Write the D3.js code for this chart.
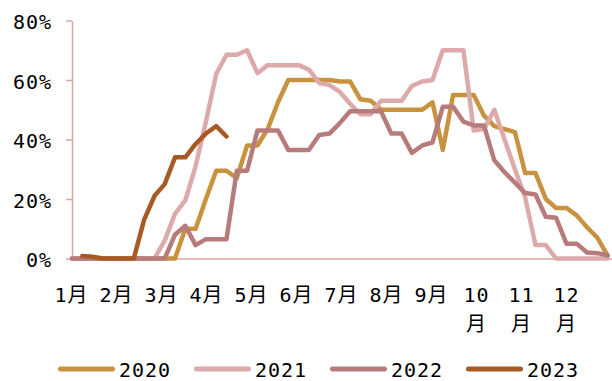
<!DOCTYPE html>
<html>
<head>
<meta charset="utf-8">
<script src="https://cdn.jsdelivr.net/npm/d3@7"></script>
<style>
  html, body { margin: 0; padding: 0; background: #fff; }
  svg { display: block; }
  text { font-family: "DejaVu Sans Mono", "Noto Sans CJK SC", monospace; font-size: 20px; fill: #000; letter-spacing: 1px; }
</style>
</head>
<body>
<svg id="chart" width="612" height="381"></svg>
<script>
// Weekly share (%) for each year, week index 0..52
const series2020 = [0,0,0,0,0,0,0,0,0,0,0,10,10,20,29.5,29.5,27,38,38,43.5,52.5,60,60,60,60,60,59.5,59.5,53.5,53,50,50,50,50,50,52.5,36.5,55,55,55,48,44.5,43.5,42.5,28.7,28.7,20,17,17,14.5,10.5,7,1];
const series2021 = [0,0,0,0,0,0,0,0,0,6,15,19.5,31,46,62,68.5,68.5,70,62.3,65,65,65,65,63.5,59,58.3,56,52,48.5,48.5,53,53,53,58,59.5,60,70,70,70,43,43.5,50,40,30,20.5,4.5,4.5,0,0,0,0,0,0];
const series2022 = [0,0,0,0,0,0,0,0,0,0,8,11,4.5,6.5,6.5,6.5,29.5,29.5,43,43,43,36.5,36.5,36.5,41.5,42,45.5,49.5,49.5,49.5,49.5,42,42,35.5,38,39,51,51,46,44.7,44.7,33,29,25.5,22,21.5,14,13.7,5,5,2,1.8,1];
const series2023 = [null,0.8,0.6,0,0,0,0,13,21,25,34,34,38.5,42,44.5,41];

const years = ["2020", "2021", "2022", "2023"];
const colors = ["#c8923f", "#dcaaaa", "#b87b7b", "#a85a24"];
const monthLabels = ["1月","2月","3月","4月","5月","6月","7月","8月","9月","10月","11月","12月"];
const yTicks = [0, 20, 40, 60, 80];

const allSeries = [series2020, series2021, series2022, series2023];
const svg = d3.select("#chart");
const axisColor = "#d9a6a6";

const x = d3.scaleLinear().domain([0, 52]).range([72, 607.6]);
const y = d3.scaleLinear().domain([0, 80]).range([258.5, 20.5]);
const xMonth = d3.scalePoint().domain(monthLabels).range([71, 566]);

// y axis
const yAxis = svg.append("g")
  .attr("transform", "translate(72,0)")
  .call(d3.axisLeft(y).tickValues(yTicks).tickSize(6).tickSizeOuter(0).tickPadding(14).tickFormat(d => d + "%"));
yAxis.select(".domain").attr("stroke", axisColor).attr("stroke-width", 1.5);
yAxis.selectAll(".tick line").attr("stroke", axisColor).attr("stroke-width", 1.5);
yAxis.selectAll(".tick text").attr("font-size", null).attr("font-family", null).attr("dy", "0.42em");

// x axis baseline
const xBase = d3.scaleLinear().domain([0, 1]).range([72, 612]);
const xAxis = svg.append("g")
  .attr("transform", `translate(0,${y(0)})`)
  .call(d3.axisBottom(xBase).tickValues([]).tickSizeOuter(0));
xAxis.select(".domain").attr("stroke", axisColor).attr("stroke-width", 1.5);

// month labels
const mAxis = svg.append("g")
  .attr("transform", `translate(0,${y(0)})`)
  .call(d3.axisBottom(xMonth).tickSize(0));
mAxis.select(".domain").remove();
mAxis.selectAll(".tick text")
  .attr("font-size", null).attr("font-family", null)
  .each(function(d) {
    const t = d3.select(this);
    t.text(null).attr("y", 0).attr("dy", null);
    if (d.length > 2) {
      t.append("tspan").attr("x", 0).attr("y", 43).text(d.slice(0, -1));
      t.append("tspan").attr("x", 0).attr("y", 72).text(d.slice(-1));
    } else {
      t.append("tspan").attr("x", 0).attr("y", 43).text(d);
    }
  });

// lines
const line = d3.line()
  .defined(d => d != null)
  .x((d, i) => x(i))
  .y(d => y(d));

svg.append("g").selectAll("path")
  .data(allSeries)
  .join("path")
  .attr("d", line)
  .attr("fill", "none")
  .attr("stroke", (d, i) => colors[i])
  .attr("stroke-width", 4.5)
  .attr("stroke-linejoin", "round")
  .attr("stroke-linecap", "round");

// legend
const legend = svg.append("g");
const items = legend.selectAll("g")
  .data(years)
  .join("g")
  .attr("transform", (d, i) => `translate(${58 + 136 * i},369)`);
items.append("line")
  .attr("x1", 2.5).attr("x2", 54.5).attr("y1", 0).attr("y2", 0)
  .attr("stroke", (d, i) => colors[i])
  .attr("stroke-width", 5)
  .attr("stroke-linecap", "round");
items.append("text")
  .attr("x", 61).attr("y", 8)
  .text(d => d);
</script>
</body>
</html>
